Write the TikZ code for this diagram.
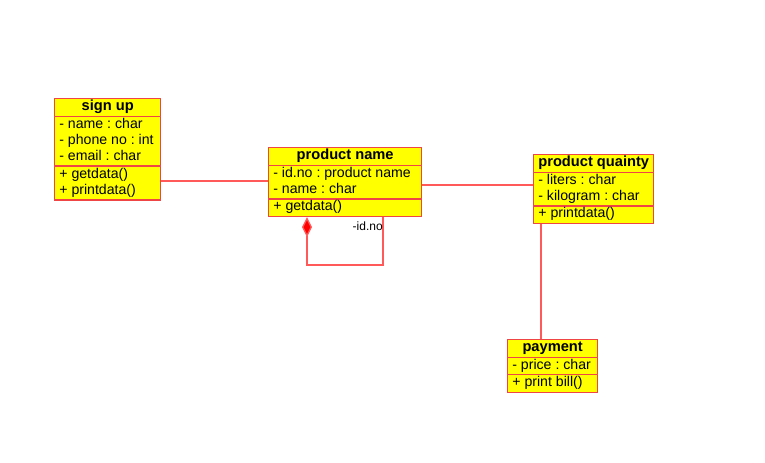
\documentclass[tikz,border=0pt]{standalone}
\usepackage{fontspec}
\setmainfont{Liberation Sans}
\usetikzlibrary{shapes.multipart,arrows.meta}
\definecolor{umlred}{rgb}{0.94,0.27,0.27}
\definecolor{linkred}{rgb}{1,0.35,0.35}
\definecolor{umlyellow}{rgb}{1,1,0}
\tikzset{
	umlclass/.style={draw=umlred, line width=1pt, fill=umlyellow, rectangle split, rectangle split parts=3,
		rectangle split part align={center, left, left}, anchor=north west,
		inner xsep=3.5pt, inner ysep=0pt, align=left,
		font=\fontsize{10.6}{12.15}\selectfont\frenchspacing},
	assoc/.style={draw=linkred, line width=1pt},
}
\newcommand{\classhead}[1]{\strut{\fontsize{11}{12.15}\selectfont\bfseries #1}}

\begin{document}
\begin{tikzpicture}[x=0.75pt, y=-0.75pt]
			\useasboundingbox (0, 0) rectangle (765, 462);
			\node[umlclass, minimum width=79.5pt] (signup) at (54, 98)
				{\classhead{sign up}
				\nodepart{two}\strut- name : char\\\strut- phone no : int\\\strut- email : char
				\nodepart{three}\strut+ getdata()\\\strut+ printdata()};
			\node[umlclass, minimum width=114.75pt] (pname) at (268, 147)
				{\classhead{product name}
				\nodepart{two}\strut- id.no : product name\\\strut- name : char
				\nodepart{three}\strut+ getdata()};
			\node[umlclass, minimum width=90pt] (quainty) at (533, 154)
				{\classhead{product quainty}
				\nodepart{two}\strut- liters : char\\\strut- kilogram : char
				\nodepart{three}\strut+ printdata()};
			\node[umlclass, minimum width=67.5pt] (payment) at (507, 339)
				{\classhead{payment}
				\nodepart{two}\strut- price : char
				\nodepart{three}\strut+ print bill()};
			% associations
			\draw[assoc] (pname.north west) ++(0, 34) coordinate (p1) -- (p1 -| signup.east);
			\draw[assoc] (quainty.north west) ++(0, 31) coordinate (q1) -- (q1 -| pname.east);
			\draw[assoc] (quainty.north west) ++(8, 0) coordinate (q2) (q2 |- quainty.south) -- (q2 |- payment.north);
			% self composition
			\draw[assoc, -{Diamond[length=15pt, width=7.5pt, fill=red]}] (pname.north west) ++(115, 118) coordinate (l1)
				(l1 |- pname.south) -- (l1) -- ++(-76, 0) coordinate (l2) -- (l2 |- pname.south);
			\node[font=\fontsize{9}{11}\selectfont, anchor=north east, inner sep=0pt] (idlabel) at ([yshift=-3pt]l1 |- pname.south) {-id.no};
		\end{tikzpicture}
\end{document}
